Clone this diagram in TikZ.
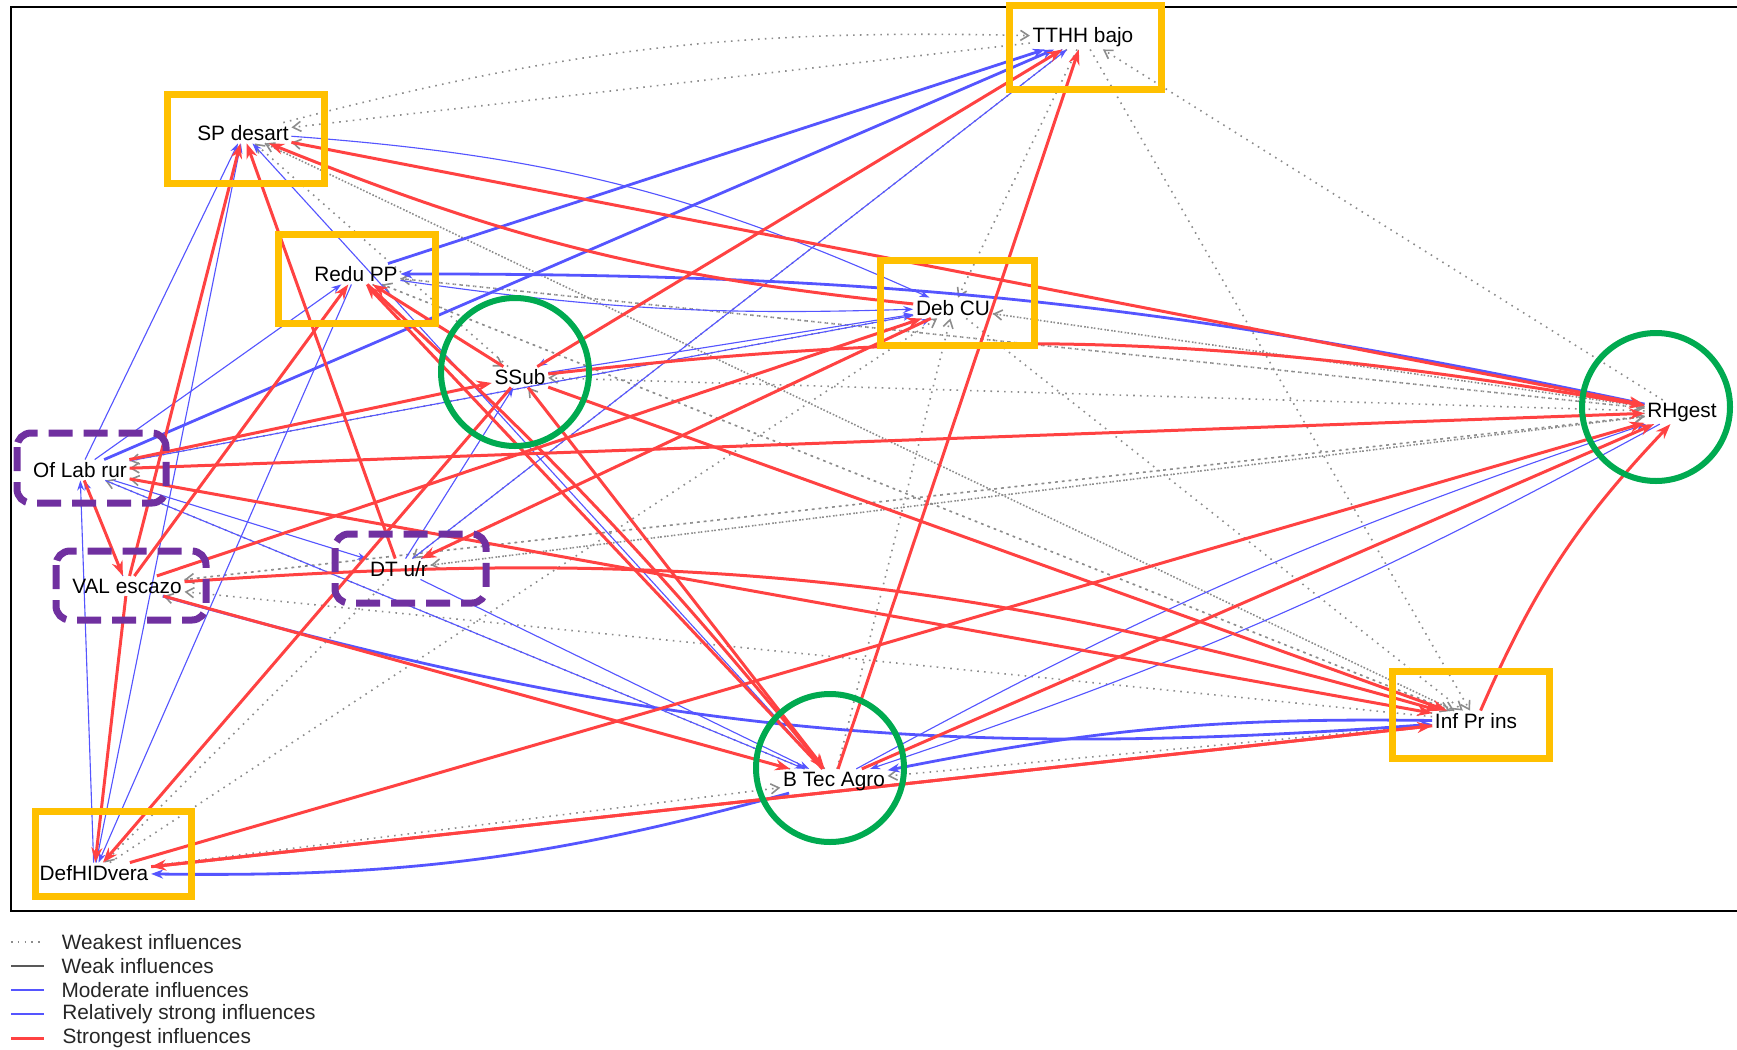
\documentclass[tikz,border=0pt]{standalone}
\usepackage{fontspec}
\setmainfont{Liberation Sans}
\usetikzlibrary{arrows.meta}
\definecolor{strongred}{RGB}{255,66,66}
\definecolor{modblue}{RGB}{85,85,255}
\definecolor{weakgray}{RGB}{140,140,140}
\definecolor{keygold}{RGB}{255,192,0}
\definecolor{keygreen}{RGB}{0,170,80}
\definecolor{keypurple}{RGB}{112,48,160}
\pgfdeclarelayer{edges}
\pgfsetlayers{edges,main}

\begin{document}
\begin{tikzpicture}[x=0.25pt,y=-0.25pt,
	var/.style={font=\fontsize{5.2}{6}\selectfont, inner sep=0.5pt},
	legtext/.style={font=\fontsize{5.2}{6}\selectfont, text=black!85, anchor=west, inner sep=0pt},
	weakest/.style={weakgray, line width=0.4pt, dash pattern=on 0.4pt off 1.3pt},
	weak/.style={black!65, line width=0.3pt},
	moderate/.style={modblue, line width=0.28pt},
	relstrong/.style={modblue, line width=0.7pt},
	strongest/.style={strongred, line width=0.75pt},
	keybox/.style={keygold, line width=1.75pt},
	hubring/.style={keygreen, line width=1.5pt},
	linkbox/.style={keypurple, line width=1.75pt, dash pattern=on 6pt off 2.75pt, rounded corners=3.5pt}]
	\useasboundingbox (0,0) rectangle (1737,1050);
	
	% plot frame
	\draw[line width=0.3pt] (1737,7) -- (11,7) -- (11,911) -- (1737,911);
	
	% variables
	\node[var] (tthh) at (1083,37) {TTHH bajo};
	\node[var] (spd) at (243,133) {SP desart};
	\node[var] (redu) at (356,274) {Redu PP};
	\node[var] (debcu) at (953,308) {Deb CU};
	\node[var] (ssub) at (520,377) {SSub};
	\node[var] (rhg) at (1682,412) {RHgest};
	\node[var] (oflab) at (80,470) {Of Lab rur};
	\node[var] (val) at (127,586) {VAL escazo};
	\node[var] (dtur) at (399,569) {DT u/r};
	\node[var] (infpr) at (1476,721) {Inf Pr ins};
	\node[var] (btec) at (834,781) {B Tec Agro};
	\node[var] (defh) at (94,873) {DefHIDvera};
	
	\begin{pgfonlayer}{edges}
	% weakest influences
	\foreach \from/\to in {tthh/spd, rhg/tthh, tthh/debcu, rhg/debcu, btec/debcu, defh/debcu,
		redu/ssub, rhg/ssub, btec/ssub, ssub/spd, infpr/spd, rhg/spd, infpr/redu, rhg/redu,
		btec/oflab, infpr/oflab, rhg/oflab, debcu/oflab, rhg/val, infpr/val, btec/val,
		rhg/dtur, tthh/dtur, debcu/infpr, tthh/infpr, spd/infpr, redu/infpr, defh/btec,
		infpr/btec, redu/rhg, dtur/rhg, val/rhg, debcu/rhg, dtur/defh}
		\draw[weakest, -{Straight Barb[length=2pt,width=2.5pt]}] (\from) -- (\to);
	\draw[weakest, -{Straight Barb[length=2pt,width=2.5pt]}] (spd) to[bend left=8] (tthh);
	
	% moderate and relatively strong influences
	\foreach \from/\to in {dtur/tthh, oflab/spd, defh/spd, btec/spd, oflab/redu, oflab/debcu,
		dtur/debcu, dtur/ssub, tthh/ssub, defh/oflab, redu/defh, val/oflab, oflab/dtur,
		dtur/btec, oflab/btec, ssub/debcu}
		\draw[moderate, -{Stealth[length=2.5pt,width=1.75pt]}] (\from) -- (\to);
	\foreach \from/\to in {redu/tthh, oflab/tthh}
		\draw[relstrong, -{Stealth[length=3pt,width=2.25pt]}] (\from) -- (\to);
	\draw[moderate, -{Stealth[length=2.5pt,width=1.75pt]}] (spd) to[bend left=10] (debcu);
	\draw[relstrong, -{Stealth[length=3pt,width=2.25pt]}] (rhg) to[bend right=6] (redu);
	\draw[moderate, -{Stealth[length=2.5pt,width=1.75pt]}] (redu) to[bend right=5] (debcu);
	\draw[relstrong, -{Stealth[length=3pt,width=2.25pt]}] (btec) to[bend left=8] (defh);
	\draw[relstrong, -{Stealth[length=3pt,width=2.25pt]}] (infpr) to[bend right=6] (btec);
	\draw[relstrong, -{Stealth[length=3pt,width=2.25pt]}] (val) to[bend right=10] (infpr);
	\draw[moderate, -{Stealth[length=2.5pt,width=1.75pt]}] (btec) to[bend left=5] (rhg);
	\draw[moderate, -{Stealth[length=2.5pt,width=1.75pt]}] (rhg) to[bend left=5] (btec);
	
	% strongest influences
	\foreach \from/\to in {btec/tthh, ssub/tthh, ssub/defh, defh/rhg, defh/infpr, spd/rhg,
		oflab/rhg, btec/rhg, val/redu, ssub/redu, btec/redu, ssub/btec, val/btec, oflab/infpr,
		ssub/infpr, oflab/val, val/defh, val/spd, dtur/spd, debcu/dtur, val/debcu, oflab/ssub,
		infpr/defh}
		\draw[strongest, -{Stealth[length=3.75pt,width=2.75pt]}] (\from) -- (\to);
	\draw[strongest, -{Stealth[length=3.75pt,width=2.75pt]}] (infpr) to[bend left=10] (rhg);
	\draw[strongest, -{Stealth[length=3.75pt,width=2.75pt]}] (debcu) to[bend left=8] (spd);
	\draw[strongest, -{Stealth[length=3.75pt,width=2.75pt]}] (ssub) to[bend left=8] (rhg);
	\draw[strongest, -{Stealth[length=3.75pt,width=2.75pt]}] (val) to[bend left=10] (infpr);
	\draw[strongest, -{Stealth[length=3.75pt,width=2.75pt]}] (redu) to[bend left=4] (btec);
	\end{pgfonlayer}
	
	% highlighted groups
	\draw[keybox] (1009,5) rectangle (1161,89);
	\draw[keybox] (167,94) rectangle (324,183);
	\draw[keybox] (278,234) rectangle (435,323);
	\draw[keybox] (880,260) rectangle (1034,345);
	\draw[keybox] (1392,671) rectangle (1549,758);
	\draw[keybox] (35,811) rectangle (191,896);
	\draw[hubring] (515,372) circle[radius=74];
	\draw[hubring] (1656,407) circle[radius=74];
	\draw[hubring] (830,768) circle[radius=74];
	\draw[linkbox] (17,433) rectangle (166,503);
	\draw[linkbox] (56,551) rectangle (206,620);
	\draw[linkbox] (335,534) rectangle (486,603);
	
	% legend
	\coordinate (k1) at (11,942);
	\coordinate (k2) at (11,966);
	\coordinate (k3) at (11,990);
	\coordinate (k4) at (11,1014);
	\coordinate (k5) at (11,1038);
	\draw[weakest] (k1) -- ++(33,0) node[legtext, xshift=4.25pt] (l1) {Weakest influences};
	\draw[weak] (k2) -- ++(33,0) node[legtext, xshift=4.25pt] (l2) {Weak influences};
	\draw[moderate] (k3) -- ++(33,0) node[legtext, xshift=4.25pt] (l3) {Moderate influences};
	\draw[relstrong] (k4) -- ++(33,0) node[legtext, xshift=4.25pt] (l4) {Relatively strong influences};
	\draw[strongest] (k5) -- ++(33,0) node[legtext, xshift=4.25pt] (l5) {Strongest influences};
\end{tikzpicture}
\end{document}
